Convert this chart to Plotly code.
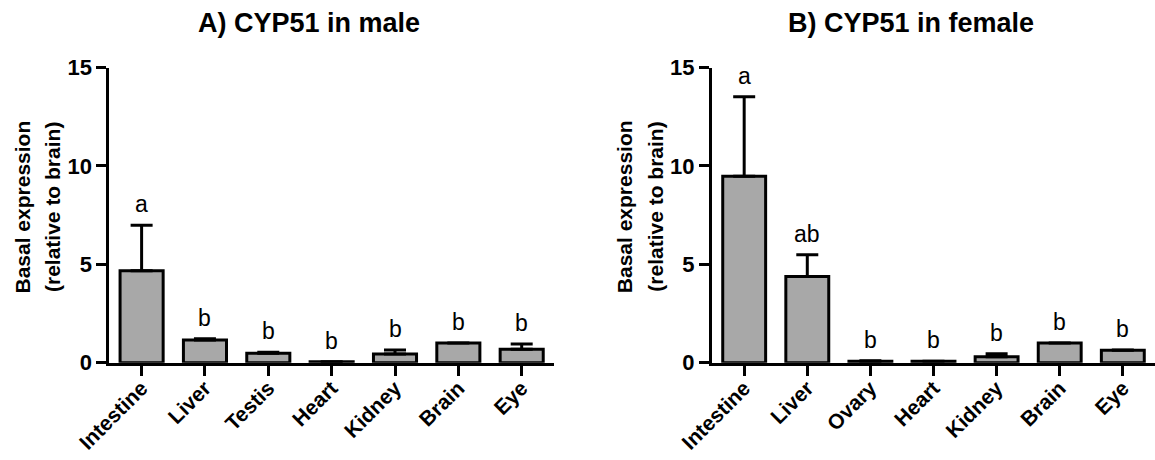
import plotly.graph_objects as go

tissues_male = ["Intestine", "Liver", "Testis", "Heart", "Kidney", "Brain", "Eye"]
male_mean = [4.67, 1.15, 0.48, 0.05, 0.44, 1.0, 0.68]
male_err = [2.32, 0.07, 0.05, 0.0, 0.20, 0.0, 0.27]
male_letters = ["a", "b", "b", "b", "b", "b", "b"]

tissues_female = ["Intestine", "Liver", "Ovary", "Heart", "Kidney", "Brain", "Eye"]
female_mean = [9.47, 4.38, 0.08, 0.07, 0.30, 1.0, 0.63]
female_err = [4.04, 1.10, 0.02, 0.01, 0.16, 0.0, 0.02]
female_letters = ["a", "ab", "b", "b", "b", "b", "b"]

panel_titles = ["A) CYP51 in male", "B) CYP51 in female"]
y_title_lines = ["Basal expression", "(relative to brain)"]
y_ticks = [0, 5, 10, 15]

W, H = 1155, 460
FONT = "Liberation Sans, Arial, sans-serif"
BAR_COLOR = "#a8a8a8"

fig = go.Figure()

panels = [
    (tissues_male, male_mean, male_err, male_letters, "x", "y"),
    (tissues_female, female_mean, female_err, female_letters, "x2", "y2"),
]

for tissues, mean, err, letters, xa, ya in panels:
    fig.add_trace(go.Bar(
        x=tissues, y=mean, width=0.68, xaxis=xa, yaxis=ya,
        marker=dict(color=BAR_COLOR, line=dict(color="black", width=3)),
        error_y=dict(type="data", array=err, arrayminus=[0] * len(err),
                     symmetric=False, color="black", thickness=3, width=11),
        showlegend=False, hoverinfo="skip", cliponaxis=False,
    ))
    for t, m, e, l in zip(tissues, mean, err, letters):
        fig.add_annotation(x=t, y=m + e, xref=xa, yref=ya, text=l, showarrow=False,
                           yanchor="middle", yshift=21,
                           font=dict(family=FONT, size=23, color="black"))

y0_px, y15_px = 362.7, 67.5
ydom = [1 - y0_px / H, 1 - y15_px / H]
xdoms = [[109.3 / W, 554.0 / W], [712.0 / W, 1.0]]

axis_common = dict(showline=True, linewidth=3, linecolor="black", ticks="outside",
                   ticklen=10, tickwidth=3, tickcolor="black", showgrid=False,
                   zeroline=False, automargin=False)

for i, (xa, ya) in enumerate([("xaxis", "yaxis"), ("xaxis2", "yaxis2")]):
    yname = "y" if i == 0 else "y2"
    xname = "x" if i == 0 else "x2"
    fig.layout[xa] = dict(domain=xdoms[i], anchor=yname, type="category",
                          range=[-0.51, 6.51], tickangle=-45, ticklabelstandoff=-8,
                          tickfont=dict(family=FONT, size=21, color="black", weight="bold"),
                          **axis_common)
    fig.layout[ya] = dict(domain=ydom, anchor=xname, range=[0, 15], tickvals=y_ticks,
                          tickfont=dict(family=FONT, size=22, color="black", weight="bold"),
                          **axis_common)

# panel titles
title_x = [309 / W, 911 / W]
for tx, tt in zip(title_x, panel_titles):
    fig.add_annotation(x=tx, y=1 - 23 / H, xref="paper", yref="paper", text=tt,
                       showarrow=False, xanchor="center", yanchor="middle",
                       font=dict(family=FONT, size=27, color="black", weight="bold"))

# y-axis titles (two lines each)
for base in [0, 712.0 - 109.3]:
    for line_x, txt in zip([22.5, 53.0], y_title_lines):
        fig.add_annotation(x=(base + line_x) / W, y=1 - 207 / H, xref="paper", yref="paper",
                           text=txt, showarrow=False, textangle=-90,
                           xanchor="center", yanchor="middle",
                           font=dict(family=FONT, size=21, color="black", weight="bold"))

fig.update_layout(width=W, height=H, margin=dict(l=0, r=0, t=0, b=0, autoexpand=False),
                  paper_bgcolor="white", plot_bgcolor="white", bargap=0.32,
                  font=dict(family=FONT, color="black"))

fig.write_html("out.html")
